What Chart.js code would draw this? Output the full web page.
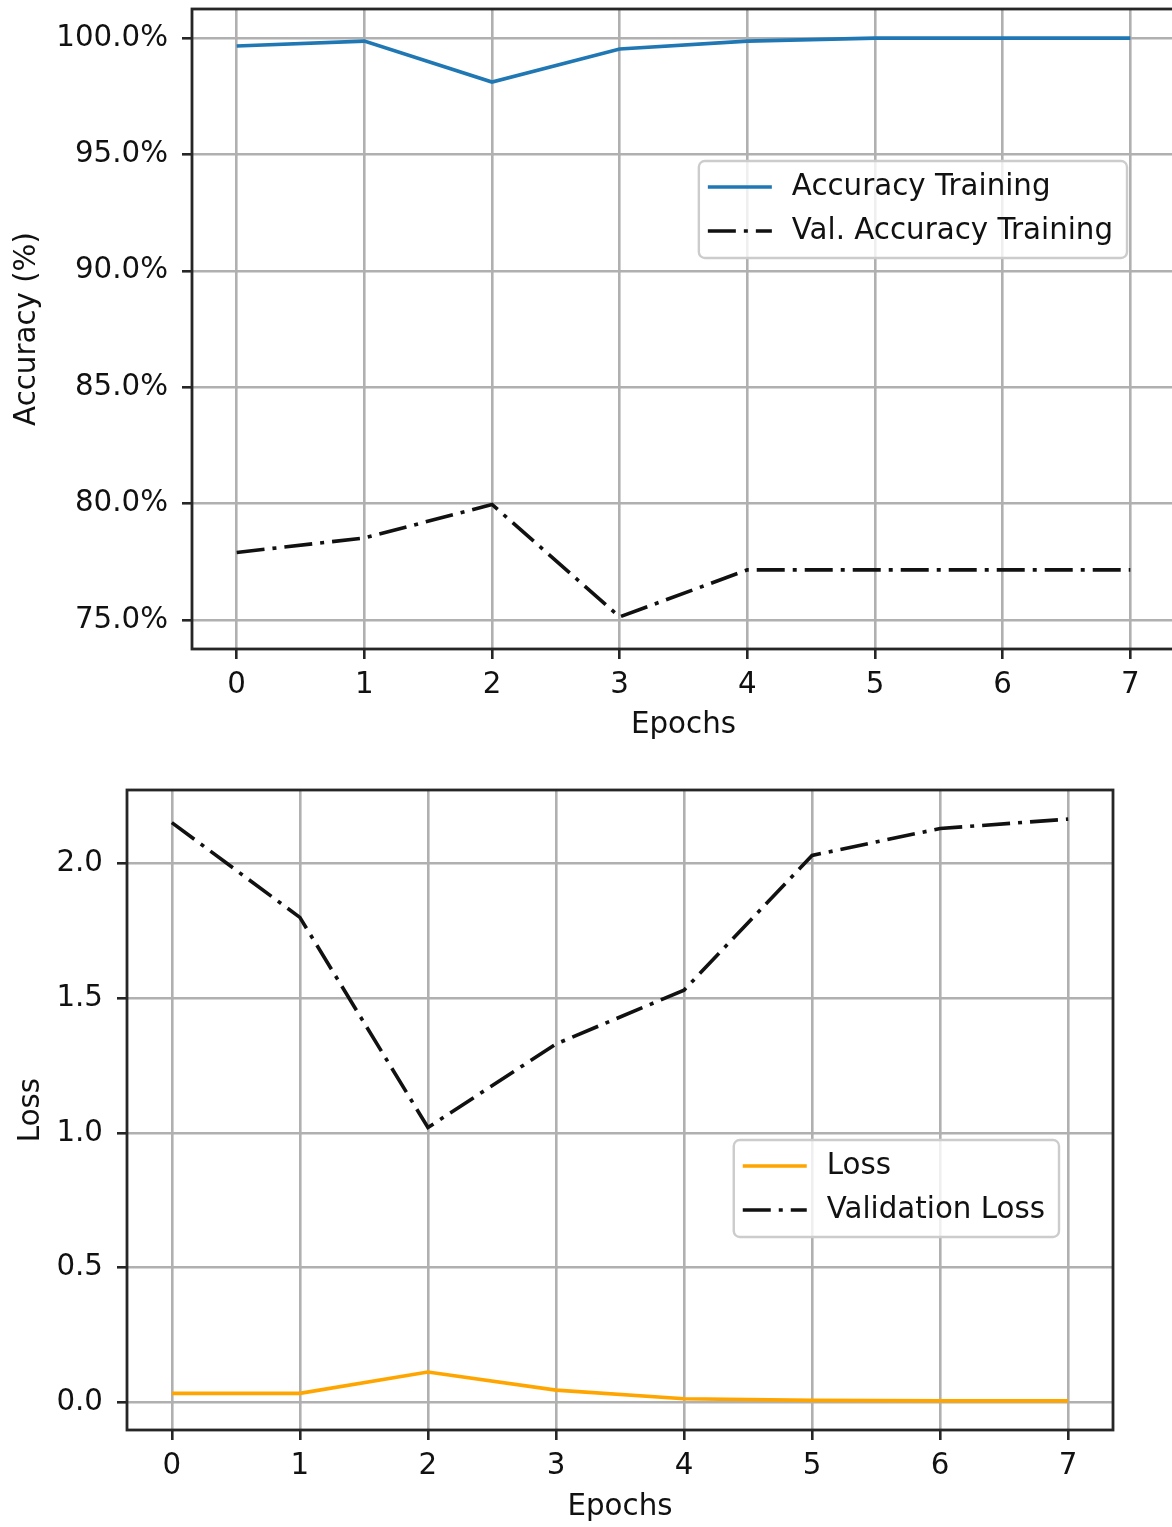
<!DOCTYPE html>
<html lang="en">
<head>
    <meta charset="UTF-8">
    <title>Accuracy / Loss</title>
    <script src="https://cdn.jsdelivr.net/npm/chart.js"></script>
    <style>
        html, body { margin: 0; padding: 0; width: 1172px; height: 1527px; overflow: hidden; background: #fff; }
        .panel { position: absolute; left: 0; }
    </style>
</head>
<body>
    <div class="panel" style="top: 0;"><canvas id="accChart" width="1200" height="750"></canvas></div>
    <div class="panel" style="top: 750px;"><canvas id="lossChart" width="1172" height="777"></canvas></div>

    <script>
        // values
        const epochs = [0, 1, 2, 3, 4, 5, 6, 7];
        const accTraining = [99.66, 99.87, 98.11, 99.53, 99.87, 100, 100, 100];
        const valAccTraining = [77.9, 78.52, 79.96, 75.13, 77.15, 77.15, 77.15, 77.15];
        const loss = [0.033, 0.033, 0.112, 0.045, 0.013, 0.007, 0.005, 0.005];
        const valLoss = [2.152, 1.80, 1.02, 1.33, 1.53, 2.03, 2.13, 2.165];

        const epochTicks = [0, 1, 2, 3, 4, 5, 6, 7];
        const accTicks = [75, 80, 85, 90, 95, 100];
        const lossTicks = [0, 0.5, 1, 1.5, 2];

        const FONT = "'DejaVu Sans', sans-serif";
        const FSIZE = 29.3;
        const TEXT = '#111';
        const SPINE = '#262626';
        const GRID = '#b0b0b0';
        const DASHDOT = [28, 8, 4, 8];
        const LW = 3.6;

        Chart.defaults.font.family = FONT;
        Chart.defaults.font.size = FSIZE;
        Chart.defaults.color = TEXT;

        function points(ys) {
            return epochs.map((e, i) => ({ x: e, y: ys[i] }));
        }

        // box round the plot area, drawn over the lines like matplotlib spines
        const spines = {
            id: 'spines',
            afterDatasetsDraw(chart) {
                const { ctx, chartArea: a } = chart;
                ctx.save();
                ctx.strokeStyle = SPINE;
                ctx.lineWidth = 2.8;
                ctx.strokeRect(a.left, a.top, a.right - a.left, a.bottom - a.top);
                ctx.restore();
            }
        };

        // matplotlib style legend frame
        const boxLegend = {
            id: 'boxLegend',
            afterDraw(chart, args, opts) {
                const { ctx, chartArea } = chart;
                const items = chart.data.datasets;
                ctx.save();
                ctx.font = FSIZE + 'px ' + FONT;
                const textW = Math.max(...items.map(d => ctx.measureText(d.label).width));
                const w = 93 + textW + 14, h = 97;
                const x = chartArea.right - opts.right - w;
                const y = chartArea.top + opts.top;
                ctx.beginPath();
                ctx.roundRect(x, y, w, h, 6);
                ctx.fillStyle = 'rgba(255,255,255,0.8)';
                ctx.fill();
                ctx.strokeStyle = '#cccccc';
                ctx.lineWidth = 2.4;
                ctx.stroke();
                items.forEach((d, i) => {
                    const cy = y + 26 + i * 44;
                    ctx.beginPath();
                    ctx.setLineDash(d.borderDash || []);
                    ctx.strokeStyle = d.borderColor;
                    ctx.lineWidth = d.borderWidth;
                    ctx.moveTo(x + 9, cy);
                    ctx.lineTo(x + 73, cy);
                    ctx.stroke();
                    ctx.setLineDash([]);
                    ctx.fillStyle = TEXT;
                    ctx.textBaseline = 'middle';
                    ctx.fillText(d.label, x + 93, cy);
                });
                ctx.restore();
            }
        };

        function makeChart(id, cfg) {
            return new Chart(document.getElementById(id), {
                type: 'line',
                data: { datasets: cfg.datasets },
                options: {
                    responsive: false,
                    animation: false,
                    layout: { padding: cfg.padding },
                    elements: { point: { radius: 0 }, line: { tension: 0 } },
                    plugins: {
                        legend: { display: false },
                        tooltip: { enabled: false },
                        boxLegend: cfg.legend
                    },
                    scales: {
                        x: {
                            type: 'linear',
                            min: -0.35,
                            max: 7.35,
                            afterBuildTicks: s => { s.ticks = epochTicks.map(v => ({ value: v })); },
                            afterFit: s => { s.height = cfg.xHeight; s.paddingLeft = 0; s.paddingRight = 0; },
                            grid: { color: GRID, lineWidth: 2.6, tickColor: SPINE, tickLength: 10, tickWidth: 2.6 },
                            border: { display: false },
                            ticks: { padding: 9, maxRotation: 0, color: TEXT, callback: v => String(v) },
                            title: { display: true, text: 'Epochs', color: TEXT, padding: { top: 0, bottom: cfg.xTitlePad } }
                        },
                        y: {
                            type: 'linear',
                            min: cfg.yMin,
                            max: cfg.yMax,
                            afterBuildTicks: s => { s.ticks = cfg.yTicks.map(v => ({ value: v })); },
                            afterFit: s => { s.width = cfg.yWidth; s.paddingTop = 0; s.paddingBottom = 0; },
                            grid: { color: GRID, lineWidth: 2.6, tickColor: SPINE, tickLength: 10, tickWidth: 2.6 },
                            border: { display: false },
                            ticks: { padding: 14, color: TEXT, callback: cfg.yFormat },
                            title: { display: true, text: cfg.yTitle, color: TEXT, padding: { top: cfg.yTitlePad, bottom: 0 } }
                        }
                    }
                },
                plugins: [spines, boxLegend]
            });
        }

        makeChart('accChart', {
            datasets: [{
                label: 'Accuracy Training',
                data: points(accTraining),
                borderColor: '#1f77b4',
                borderWidth: LW
            }, {
                label: 'Val. Accuracy Training',
                data: points(valAccTraining),
                borderColor: '#111',
                borderWidth: LW,
                borderDash: DASHDOT
            }],
            padding: { top: 9, right: 25, left: 0, bottom: 0 },
            xHeight: 101,
            yWidth: 192,
            yMin: 73.75,
            yMax: 101.25,
            yTicks: accTicks,
            yFormat: v => v.toFixed(1) + '%',
            yTitle: 'Accuracy (%)',
            yTitlePad: 10,
            xTitlePad: 7,
            legend: { right: 48, top: 152 }
        });

        makeChart('lossChart', {
            datasets: [{
                label: 'Loss',
                data: points(loss),
                borderColor: '#ffa500',
                borderWidth: LW
            }, {
                label: 'Validation Loss',
                data: points(valLoss),
                borderColor: '#111',
                borderWidth: LW,
                borderDash: DASHDOT
            }],
            padding: { top: 40, right: 59, left: 0, bottom: 0 },
            xHeight: 97,
            yWidth: 127,
            yMin: -0.103,
            yMax: 2.273,
            yTicks: lossTicks,
            yFormat: v => v.toFixed(1),
            yTitle: 'Loss',
            yTitlePad: 14,
            xTitlePad: 2,
            legend: { right: 54, top: 350 }
        });
    </script>
</body>
</html>
